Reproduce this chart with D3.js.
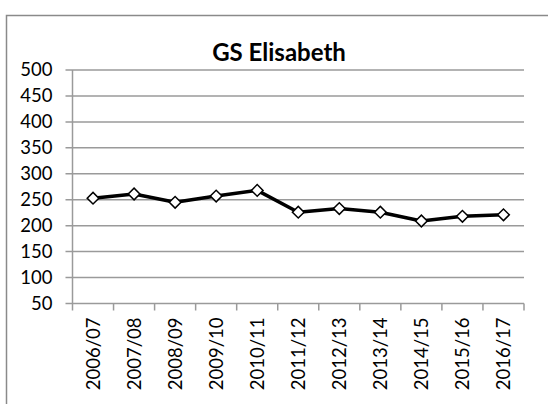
<!DOCTYPE html>
<html>
  <head>
    <meta charset="utf-8">
    <title>GS Elisabeth</title>
    <script src="https://d3js.org/d3.v7.min.js"></script>
    <style>
      body { margin: 0; background: #fff; }
      text { font-family: Lato, "Open Sans", sans-serif; fill: #000; }
    </style>
  </head>
  <body>
    <div id="chart"></div>
    <script>
      // Data
      var seasons = ["2006/07", "2007/08", "2008/09", "2009/10", "2010/11", "2011/12",
                     "2012/13", "2013/14", "2014/15", "2015/16", "2016/17"];
      var pupils = [253, 261, 245, 257, 268, 226, 233, 226, 209, 218, 221];
      var yTicks = [50, 100, 150, 200, 250, 300, 350, 400, 450, 500];

      var svg = d3.select("#chart")
        .append("svg")
        .attr("width", 548)
        .attr("height", 404);

      // outer chart frame (cut off on the right and bottom)
      svg.append("rect")
        .attr("x", 6.5)
        .attr("y", 15.5)
        .attr("width", 560)
        .attr("height", 420)
        .attr("fill", "none")
        .attr("stroke", "#8a8a8a")
        .attr("stroke-width", 1.5);

      var plotL = 72.5, plotR = 524, plotT = 70, plotB = 303.5;

      var x = d3.scaleBand()
        .domain(seasons)
        .range([plotL, plotR])
        .padding(0);

      var y = d3.scaleLinear()
        .domain([50, 500])
        .range([plotB, plotT]);

      // gridlines
      svg.append("g")
        .selectAll("line")
        .data(yTicks)
        .enter()
        .append("line")
        .attr("x1", plotL - 7)
        .attr("x2", plotR)
        .attr("y1", function(d) { return y(d); })
        .attr("y2", function(d) { return y(d); })
        .attr("stroke", "#9a9a9a")
        .attr("stroke-width", 1.5);

      // y axis labels
      var yAxis = svg.append("g")
        .attr("transform", "translate(" + plotL + ",0)")
        .call(d3.axisLeft(y).tickValues(yTicks).tickSize(0).tickPadding(20));
      yAxis.select(".domain").remove();
      yAxis.selectAll("text")
        .style("font-size", "18.5px")
        .style("font-family", "Lato, 'Open Sans', sans-serif")
        .attr("fill", "#000");

      // y axis line
      svg.append("line")
        .attr("x1", plotL).attr("x2", plotL)
        .attr("y1", plotT).attr("y2", plotB)
        .attr("stroke", "#9a9a9a")
        .attr("stroke-width", 1.5);

      // x axis ticks between categories
      var bounds = d3.range(seasons.length + 1).map(function(i) { return plotL + i * x.step(); });
      svg.append("g")
        .selectAll("line")
        .data(bounds)
        .enter()
        .append("line")
        .attr("x1", function(d) { return d; })
        .attr("x2", function(d) { return d; })
        .attr("y1", plotB)
        .attr("y2", plotB + 7)
        .attr("stroke", "#9a9a9a")
        .attr("stroke-width", 1.5);

      // x labels, rotated
      svg.append("g")
        .selectAll("text")
        .data(seasons)
        .enter()
        .append("text")
        .attr("transform", function(d) {
          return "translate(" + (x(d) + x.bandwidth() / 2) + "," + (plotB + 14) + ") rotate(-90)";
        })
        .attr("text-anchor", "end")
        .attr("dy", "0.35em")
        .style("font-size", "18.5px")
        .text(function(d) { return d; });

      // line
      var line = d3.line()
        .x(function(d, i) { return x(seasons[i]) + x.bandwidth() / 2; })
        .y(function(d) { return y(d); });

      svg.append("path")
        .datum(pupils)
        .attr("d", line)
        .attr("fill", "none")
        .attr("stroke", "#000")
        .attr("stroke-width", 3.5)
        .attr("stroke-linejoin", "round");

      // diamond markers
      svg.selectAll(".marker")
        .data(pupils)
        .enter()
        .append("path")
        .attr("class", "marker")
        .attr("d", d3.symbol().type(d3.symbolSquare).size(68))
        .attr("transform", function(d, i) {
          return "translate(" + (x(seasons[i]) + x.bandwidth() / 2) + "," + y(d) + ") rotate(45)";
        })
        .attr("fill", "#fff")
        .attr("stroke", "#000")
        .attr("stroke-width", 1.5);

      // title
      svg.append("text")
        .attr("x", 279)
        .attr("y", 61)
        .attr("text-anchor", "middle")
        .style("font-size", "24px")
        .style("font-weight", "bold")
        .text("GS Elisabeth");
    </script>
  </body>
</html>
